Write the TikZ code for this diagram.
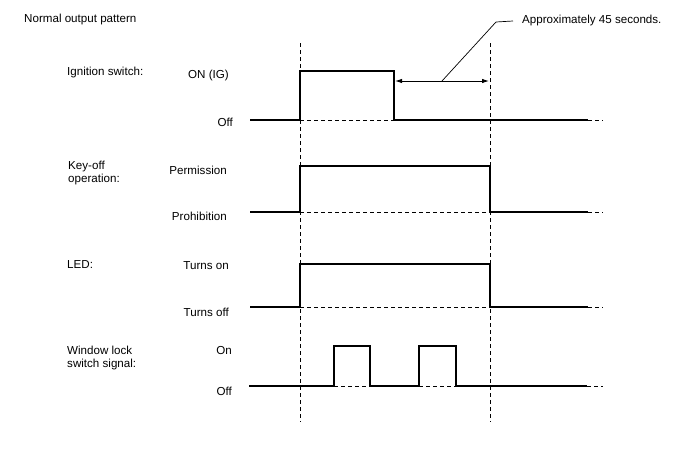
\documentclass[tikz,border=0pt]{standalone}
\usepackage{fontspec}
\setmainfont{Liberation Sans}
\usetikzlibrary{arrows.meta}

\begin{document}
\begin{tikzpicture}[x=1pt,y=-1pt,
  sig/.style={line width=1.2pt,line join=miter},
  refline/.style={line width=0.7pt,dash pattern=on 4pt off 3pt},
  txt/.style={font=\fontsize{11.6}{13.5}\selectfont,inner sep=0pt}]
\useasboundingbox (0,0) rectangle (688,463);
% title and signal names
\node[txt,anchor=west] (title) at (24,20) {Normal output pattern};
\node[txt,anchor=west] (ign) at (67,73) {Ignition switch:};
\node[txt,anchor=west,align=left] (key) at (68,173) {Key-off\\operation:};
\node[txt,anchor=west] (led) at (67,265) {LED:};
\node[txt,anchor=west,align=left] (win) at (67,358) {Window lock\\switch signal:};
% levels
\node[txt,anchor=east] (ignon) at (229,75) {ON (IG)};
\node[txt,anchor=east] (ignoff) at (233,122) {Off};
\node[txt,anchor=east] (keyon) at (227,170) {Permission};
\node[txt,anchor=east] (keyoff) at (227,216) {Prohibition};
\node[txt,anchor=east] (ledon) at (229,266) {Turns on};
\node[txt,anchor=east] (ledoff) at (229,312) {Turns off};
\node[txt,anchor=east] (winon) at (232,351) {On};
\node[txt,anchor=east] (winoff) at (232,391) {Off};
% time marks
\foreach \t in {300,490} \draw[refline] (\t,43) -- (\t,422);
% ignition switch
\draw[sig] (250,120) -- (300,120) -- (300,71) -- (394,71) -- (394,120) -- (588,120);
\draw[refline] (300,120) -- (394,120) (588,120) -- (603,120);
% key-off operation
\draw[sig] (250,212) -- (300,212) -- (300,166) -- (490,166) -- (490,212) -- (588,212);
\draw[refline] (300,212) -- (490,212) (588,212) -- (603,212);
% LED
\draw[sig] (250,307) -- (300,307) -- (300,264) -- (490,264) -- (490,307) -- (588,307);
\draw[refline] (300,307) -- (490,307) (588,307) -- (603,307);
% window lock switch signal
\draw[sig] (249,386) -- (334,386) -- (334,346) -- (370,346) -- (370,386) -- (419,386)
  -- (419,346) -- (456,346) -- (456,386) -- (587,386);
\draw[refline] (334,386) -- (370,386) (419,386) -- (456,386) (587,386) -- (603,386);
% 45 s
\draw[{Latex[length=7pt,width=4.5pt]}-{Latex[length=7pt,width=4.5pt]},line width=0.9pt] (395,81) -- (489,81);
\coordinate (mid) at (442,81);
\node[txt,anchor=west] (note) at (522,21) {Approximately 45 seconds.};
\draw[line width=0.7pt] (mid) -- (496,22) -- ([xshift=-9pt]note.west);
\end{tikzpicture}
\end{document}
